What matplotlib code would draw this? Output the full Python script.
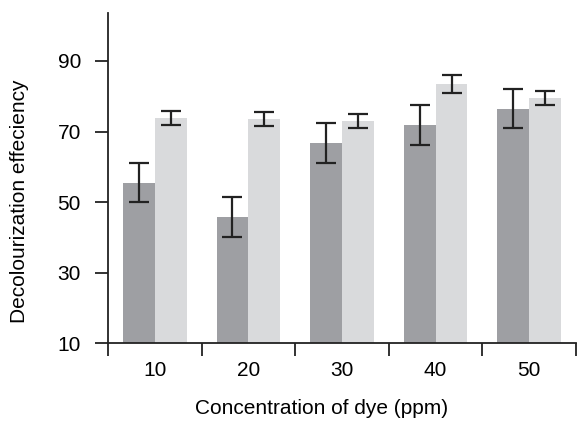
import numpy as np
import matplotlib
matplotlib.use("Agg")
import matplotlib.pyplot as plt

# concentration of dye (ppm)
conc = ['10', '20', '30', '40', '50']

# decolourization efficiency, two treatments
dark_vals = [55.5, 45.8, 66.7, 71.8, 76.5]
dark_err = [5.6, 5.7, 5.6, 5.6, 5.6]
light_vals = [73.8, 73.5, 73.0, 83.5, 79.5]
light_err = [2.0, 2.0, 2.0, 2.5, 2.1]

plt.rcParams['font.family'] = ['Liberation Sans', 'DejaVu Sans']
plt.rcParams['font.size'] = 15

fig = plt.figure(figsize=(5.78, 4.21), dpi=100)
ax = fig.add_axes([108/578, 1 - 343.3/421, 468/578, (343.3 - 13.3)/421])

x = np.arange(1, len(conc) + 1)
w = 0.34
ax.bar(x - w/2, dark_vals, w, bottom=0, color='#9e9fa3', zorder=1)
ax.bar(x + w/2, light_vals, w, bottom=0, color='#d9dadc', zorder=1)
ax.errorbar(x - w/2, dark_vals, yerr=dark_err, fmt='none', ecolor='#222222',
            elinewidth=1.6, capsize=7, capthick=1.6, zorder=2)
ax.errorbar(x + w/2, light_vals, yerr=light_err, fmt='none', ecolor='#222222',
            elinewidth=1.6, capsize=7, capthick=1.6, zorder=2)

ax.set_xlim(0.5, 5.5)
ax.set_ylim(10, 103.5)
ax.set_yticks([10, 30, 50, 70, 90])

# ticks between groups, labels at group centres
ax.set_xticks(np.arange(0.5, 6.0, 1.0))
ax.set_xticklabels([])
ax.set_xticks(x, minor=True)
ax.set_xticklabels(conc, minor=True)
ax.tick_params(axis='x', which='major', direction='out', length=9, width=1.3, color='#222222')
ax.tick_params(axis='x', which='minor', length=0, pad=13, labelsize=15)
ax.tick_params(axis='y', direction='out', length=9.5, width=1.3, color='#222222', pad=10, labelsize=15)

for s in ['top', 'right']:
    ax.spines[s].set_visible(False)
for s in ['left', 'bottom']:
    ax.spines[s].set_linewidth(1.3)
    ax.spines[s].set_color('#222222')
ax.spines['bottom'].set_clip_on(False)

ax.set_xlabel('Concentration of dye (ppm)', fontsize=15)
ax.xaxis.set_label_coords(0.457, -0.168)
ax.set_ylabel('Decolourization effeciency', fontsize=15)
ax.yaxis.set_label_coords(-0.169, 0.43)

plt.savefig('out.png', dpi=100)
plt.close()
